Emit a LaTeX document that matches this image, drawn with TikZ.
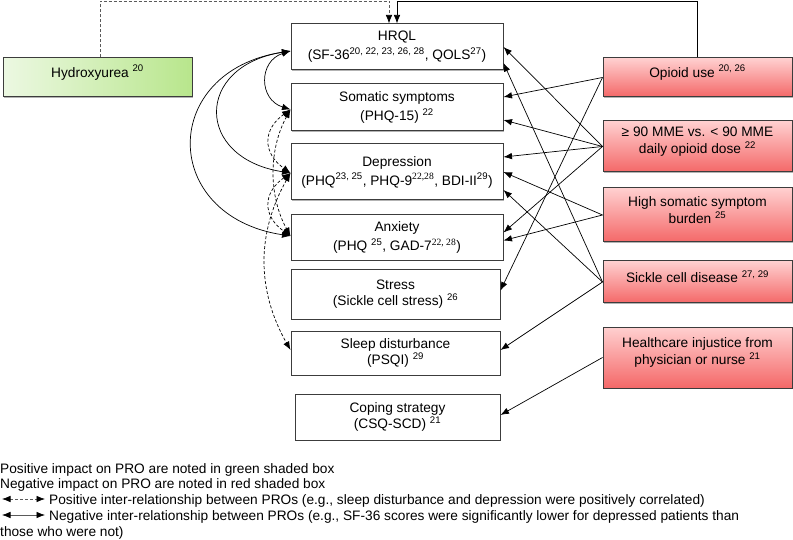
\documentclass[tikz,border=0pt]{standalone}
\usepackage{fontspec}
\setmainfont{Liberation Sans}
\newfontfamily\serifsup{Liberation Serif}
\usetikzlibrary{arrows.meta,shadows}

\definecolor{redtop}{RGB}{255,208,208}
\definecolor{redbot}{RGB}{244,104,104}
\definecolor{greenA}{RGB}{236,248,226}
\definecolor{greenB}{RGB}{184,230,140}
\definecolor{boxline}{RGB}{60,60,60}
\definecolor{dashgray}{RGB}{90,90,90}

\begin{document}
\begin{tikzpicture}[x=1pt, y=-1pt,
    font=\fontsize{13.7}{19}\selectfont,
    >={Latex[length=8.5pt,width=6.5pt,color=black]},
    boxshadow/.style={drop shadow={shadow xshift=1pt, shadow yshift=-1pt,
      fill=gray, opacity=.6}},
    probox/.style={draw=boxline, line width=1pt, fill=white, boxshadow,
      align=center, minimum width=212pt, inner sep=0pt},
    lowbox/.style={probox, minimum width=209pt,
      font=\fontsize{13.7}{16}\selectfont},
    redbox/.style={draw=boxline, line width=1pt, boxshadow, top color=redtop,
      bottom color=redbot, minimum width=189pt, inner sep=0pt},
    boxtext/.style={align=center, yshift=5pt,
      font=\fontsize{13.7}{17}\selectfont},
    negline/.style={line width=0.7pt},
    posline/.style={line width=0.7pt, dash pattern=on 3pt off 2pt},
    legtext/.style={anchor=base west, inner sep=0pt,
      font=\fontsize{13.7}{16}\selectfont}
  ]
  \useasboundingbox (0,0) rectangle (793,540);

  % PRO boxes
  \node[probox, minimum height=46pt] (hrql) at (397,47)
    {HRQL\\(SF-36\textsuperscript{20, 22, 23, 26, 28}, QOLS\textsuperscript{27})};
  \node[probox, minimum height=47pt] (soma) at (397,107.5)
    {Somatic symptoms\\(PHQ-15) \textsuperscript{22}};
  \node[probox, minimum height=56pt] (depr) at (397,172)
    {Depression\\(PHQ\textsuperscript{23, 25}, PHQ-9\textsuperscript{\serifsup 22,28}, BDI-II\textsuperscript{29})};
  \node[probox, minimum height=46pt] (anx) at (397,237.5)
    {Anxiety\\(PHQ \textsuperscript{25}, GAD-7\textsuperscript{\serifsup 22, 28})};
  \node[lowbox, minimum height=49pt] (stress) at (395.5,294.5)
    {Stress\\(Sickle cell stress) \textsuperscript{26}};
  \node[lowbox, minimum height=44pt] (sleep) at (395.5,353)
    {Sleep disturbance\\(PSQI) \textsuperscript{29}};
  \node[lowbox, minimum width=205pt, minimum height=46pt] (coping) at (397.5,417)
    {Coping strategy\\(CSQ-SCD) \textsuperscript{21}};

  % factor boxes
  \node[draw=boxline, line width=1pt, boxshadow, left color=greenA, right color=greenB,
    minimum width=189pt, minimum height=39pt, inner sep=0pt,
    label={[boxtext]center:Hydroxyurea \textsuperscript{20}}] (hydro) at (97.5,77.5) {};
  \node[redbox, minimum height=39pt,
    label={[boxtext]center:Opioid use \textsuperscript{20, 26}}] (opioid) at (697.5,77.5) {};
  \node[redbox, minimum height=51pt,
    label={[boxtext]center:{≥ 90 MME vs. < 90 MME\\daily opioid dose \textsuperscript{22}}}] (mme) at (697.5,146.5) {};
  \node[redbox, minimum height=54pt,
    label={[boxtext]center:{High somatic symptom\\burden \textsuperscript{25}}}] (burden) at (697.5,215) {};
  \node[redbox, minimum height=42pt,
    label={[boxtext]center:Sickle cell disease \textsuperscript{27, 29}}] (scd) at (697.5,282) {};
  \node[redbox, minimum height=61pt,
    label={[boxtext]center:{Healthcare injustice from\\physician or nurse \textsuperscript{21}}}] (injust) at (697.5,357.5) {};

  % links over the top
  \coordinate (top) at (0,1);
  \draw[posline, draw=dashgray, ->] ([xshift=2.5pt]hydro.north) -- ([xshift=2.5pt]hydro.north |- top)
    -| ([xshift=-8pt]hrql.north);
  \draw[negline, ->] (opioid.north) -- (opioid.north |- top) -| (hrql.north);

  % negative impacts
  \draw[negline, ->] (opioid.west) -- ([yshift=10.5pt]soma.east);
  \draw[negline, ->] (opioid.west) -- ([yshift=4pt]stress.east);
  \draw[negline, ->] (mme.west) -- (hrql.east);
  \draw[negline, ->] (mme.west) -- ([yshift=-12.5pt]soma.east);
  \draw[negline, ->] (mme.west) -- ([yshift=15pt]depr.east);
  \draw[negline, ->] (mme.west) -- ([yshift=5pt]anx.east);
  \draw[negline, ->] (burden.west) -- (depr.east);
  \draw[negline, ->] (burden.west) -- ([yshift=-3pt]anx.east);
  \draw[negline, ->] (scd.west) -- ([yshift=-16pt]hrql.east);
  \draw[negline, ->] (scd.west) -- ([yshift=-18pt]depr.east);
  \draw[negline, ->] (scd.west) -- ([yshift=3pt]sleep.east);
  \draw[negline, ->] (injust.west) -- ([yshift=2pt]coping.east);

  % inter-relationships between PROs
  \draw[negline, <->] ([yshift=-4pt]hrql.west)
      .. controls +(-32,10) and +(-32,-10) .. ([yshift=-2pt]soma.west);
  \draw[negline, <->] ([yshift=-4pt]hrql.west)
      .. controls +(-96,15) and +(-96,-15) .. ([yshift=-1pt]depr.west);
  \draw[negline, <->] ([yshift=-4pt]hrql.west)
      .. controls +(-131,20) and +(-131,-20) .. ([yshift=1.5pt]anx.west);
  \draw[posline, <->] ([yshift=-2pt]soma.west)
      .. controls +(-28,20) and +(-28,-20) .. ([yshift=-1pt]depr.west);
  \draw[posline, <->] ([yshift=-2pt]soma.west)
      .. controls +(-22,40) and +(-22,-40) .. ([yshift=1.5pt]anx.west);
  \draw[posline, <->] ([yshift=-1pt]depr.west)
      .. controls +(-28,20) and +(-28,-20) .. ([yshift=1.5pt]anx.west);
  \draw[posline, <->] ([yshift=-1pt]depr.west)
      .. controls +(-34,60) and +(-34,-60) .. ([yshift=3pt]sleep.west);

  % legend
  \node[legtext] (leg1) at (0,473) {Positive impact on PRO are noted in green shaded box};
  \node[legtext] (leg2) at (0,488) {Negative impact on PRO are noted in red shaded box};
  \node[legtext] (leg3) at (49,504) {Positive inter-relationship between PROs (e.g., sleep disturbance and depression were positively correlated)};
  \node[legtext] (leg4) at (49,520) {Negative inter-relationship between PROs (e.g., SF-36 scores were significantly lower for depressed patients than};
  \node[legtext] (leg5) at (0,536) {those who were not)};
  \coordinate (posa) at (2,499);
  \coordinate (posb) at (45,499);
  \coordinate (nega) at (2,515);
  \coordinate (negb) at (45,515);
  \draw[posline, draw=dashgray, <->] (posa) -- (posb);
  \draw[negline, draw=dashgray, <->] (nega) -- (negb);
\end{tikzpicture}
\end{document}
